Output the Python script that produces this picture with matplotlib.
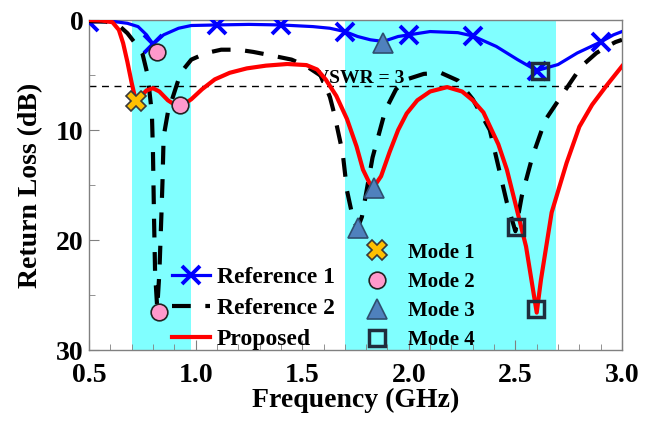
import numpy as np
import matplotlib
matplotlib.use('Agg')
import matplotlib.pyplot as plt
from matplotlib.ticker import MultipleLocator
from matplotlib.lines import Line2D

plt.rcParams['font.family'] = ['Liberation Serif', 'DejaVu Serif']
plt.rcParams['font.weight'] = 'bold'

# shaded operating bands (GHz)
bands = [(0.70, 0.98), (1.70, 2.69)]
vswr3_db = 6.0

# Reference 1
ref1_f = [0.50, 0.55, 0.62, 0.68, 0.73, 0.77, 0.80, 0.85, 0.92, 0.98, 1.10, 1.25, 1.40,
          1.55, 1.63, 1.70, 1.76, 1.82, 1.88, 1.95, 2.00, 2.10, 2.23, 2.30, 2.41, 2.51,
          2.60, 2.70, 2.79, 2.90, 2.96, 3.00]
ref1_db = [0.2, 0.15, 0.15, 0.3, 0.6, 1.35, 2.2, 1.35, 0.75, 0.5, 0.45, 0.4, 0.45,
           0.6, 0.75, 1.05, 1.5, 1.8, 1.95, 1.5, 1.35, 1.05, 1.15, 1.45, 2.4, 3.6,
           4.6, 4.05, 3.0, 2.0, 1.35, 1.05]
ref1_marks = [0.50, 0.80, 1.10, 1.40, 1.70, 2.00, 2.30, 2.60, 2.90]

# Reference 2
ref2_f = [0.50, 0.58, 0.64, 0.68, 0.72, 0.75, 0.775, 0.795, 0.80, 0.805, 0.81, 0.82,
          0.83, 0.84, 0.845, 0.85, 0.87, 0.90, 0.93, 0.98, 1.05, 1.12, 1.20, 1.27,
          1.35, 1.45, 1.52, 1.59, 1.63, 1.65, 1.69, 1.71, 1.74, 1.76, 1.78, 1.83,
          1.89, 1.94, 1.99, 2.07, 2.15, 2.23, 2.30, 2.38, 2.42, 2.46, 2.50, 2.53,
          2.58, 2.64, 2.74, 2.81, 2.88, 2.93, 2.97, 3.00]
ref2_db = [0.1, 0.15, 0.5, 1.2, 2.2, 3.0, 5.0, 8.5, 12.0, 18.0, 23.0, 26.2,
           23.0, 17.5, 14.5, 10.6, 8.4, 6.6, 4.8, 3.6, 3.0, 2.7, 2.7, 2.9,
           3.2, 3.6, 4.2, 5.1, 7.0, 8.5, 12.1, 15.5, 18.2, 18.9, 17.9, 12.5,
           8.2, 6.3, 5.4, 4.9, 4.8, 5.5, 7.2, 10.0, 13.3, 16.6, 19.2, 16.0,
           12.4, 9.1, 6.2, 4.2, 3.0, 2.4, 2.0, 1.8]

# Proposed
prop_f = [0.50, 0.56, 0.61, 0.64, 0.66, 0.68, 0.70, 0.72, 0.74, 0.77, 0.80, 0.83,
          0.87, 0.91, 0.95, 0.98, 1.03, 1.09, 1.16, 1.24, 1.33, 1.43, 1.52, 1.57,
          1.61, 1.66, 1.71, 1.755, 1.785, 1.815, 1.835, 1.87, 1.91, 1.95, 1.99,
          2.04, 2.10, 2.18, 2.25, 2.30, 2.35, 2.42, 2.46, 2.50, 2.55, 2.585, 2.60,
          2.62, 2.67, 2.74, 2.80, 2.86, 2.93, 3.00]
prop_db = [0.0, 0.05, 0.2, 0.9, 2.1, 3.8, 5.7, 7.4, 7.0, 6.4, 6.2, 6.5,
           7.3, 7.8, 7.6, 7.2, 6.3, 5.4, 4.8, 4.4, 4.15, 4.0, 4.1, 4.5,
           5.4, 6.9, 9.0, 11.5, 13.6, 14.8, 15.2, 14.2, 12.0, 10.0, 8.5,
           7.3, 6.5, 6.1, 6.5, 7.3, 8.4, 11.3, 13.6, 16.7, 20.6, 24.8, 26.6,
           23.6, 17.5, 13.0, 9.7, 7.7, 5.9, 4.2]

# resonant modes
mode1_f, mode1_db = [0.72], [7.4]
mode2_f, mode2_db = [0.817, 0.926, 0.828], [2.9, 7.7, 26.5]
mode3_f, mode3_db = [1.878, 1.839, 1.761], [2.1, 15.3, 18.9]
mode4_f, mode4_db = [2.614, 2.596, 2.502], [4.6, 26.3, 18.8]

xticks = [0.5, 1.0, 1.5, 2.0, 2.5, 3.0]
yticks = [0, 10, 20, 30]

fig = plt.figure(figsize=(6.56, 4.23), dpi=100)
ax = fig.add_axes([89 / 656, 73 / 423, 533 / 656, 330 / 423])

for a, b in bands:
    ax.axvspan(a, b, color='#80FFFF', lw=0, zorder=0)
ax.axhline(vswr3_db, color='black', lw=1.0, ls=(0, (5, 4)), zorder=1)
ax.text(1.558, 5.75, 'VSWR = 3', fontsize=14, fontweight='bold', va='baseline', zorder=2)

mark_idx = [i for i, f in enumerate(ref1_f) if f in ref1_marks]
l1, = ax.plot(ref1_f, ref1_db, color='#0000FF', lw=2.3, marker='x', ms=13, mew=2.8,
              markevery=mark_idx, label='Reference 1', zorder=3)
l2, = ax.plot(ref2_f, ref2_db, color='black', lw=3.0, dashes=(4.5, 3.5),
              label='Reference 2', zorder=3)
l3, = ax.plot(prop_f, prop_db, color='#FF0000', lw=3.0, label='Proposed', zorder=3)

ax.plot(mode1_f, mode1_db, ls='none', marker='X', ms=15, mfc='#FFC000', mec='#3A3A3A', mew=1.2, zorder=5)
ax.plot(mode2_f, mode2_db, ls='none', marker='o', ms=12, mfc='#FF99CC', mec='#222222', mew=1.2, zorder=5)
ax.plot(mode3_f, mode3_db, ls='none', marker='^', ms=15, mfc='#4F81BD', mec='#2F4F6F', mew=1.2, zorder=5)
ax.plot(mode4_f, mode4_db, ls='none', marker='s', ms=12, mfc='none', mec='#1F2D3D', mew=2.5, zorder=5)

leg1 = ax.legend(handles=[l1, l2, l3], loc='upper left', bbox_to_anchor=(0.156, 0.252),
                 frameon=False, fontsize=17, handlelength=1.6, handletextpad=0.3,
                 labelspacing=0.40, borderpad=0, borderaxespad=0)
ax.add_artist(leg1)

mode_handles = [
    Line2D([], [], ls='none', marker='X', ms=15, mfc='#FFC000', mec='#3A3A3A', mew=1.2, label='Mode 1'),
    Line2D([], [], ls='none', marker='o', ms=12, mfc='#FF99CC', mec='#222222', mew=1.2, label='Mode 2'),
    Line2D([], [], ls='none', marker='^', ms=15, mfc='#4F81BD', mec='#2F4F6F', mew=1.2, label='Mode 3'),
    Line2D([], [], ls='none', marker='s', ms=12, mfc='none', mec='#1F2D3D', mew=2.5, label='Mode 4'),
]
ax.legend(handles=mode_handles, loc='upper left', bbox_to_anchor=(0.52, 0.325),
          frameon=False, fontsize=15, handlelength=1.0, handletextpad=1.0,
          labelspacing=0.44, borderpad=0, borderaxespad=0)

ax.set_xlim(0.5, 3.0)
ax.set_ylim(30, 0)
ax.set_xticks(xticks)
ax.set_xticklabels([f'{t:.1f}' for t in xticks])
ax.set_yticks(yticks)
ax.xaxis.set_minor_locator(MultipleLocator(0.1))
ax.yaxis.set_minor_locator(MultipleLocator(5))
ax.tick_params(which='both', direction='in', color='#808080', top=False, right=False)
ax.tick_params(which='major', length=7, labelsize=20)
ax.tick_params(axis='x', which='major', pad=9)
ax.tick_params(axis='y', which='major', pad=4)
ax.tick_params(which='minor', length=4)
for s in ax.spines.values():
    s.set_color('#808080')
    s.set_linewidth(1.0)

ax.set_xlabel('Frequency (GHz)', fontsize=20, fontweight='bold', labelpad=0)
ax.set_ylabel('Return Loss (dB)', fontsize=20, fontweight='bold', labelpad=9)

fig.savefig('out.png', dpi=100)
